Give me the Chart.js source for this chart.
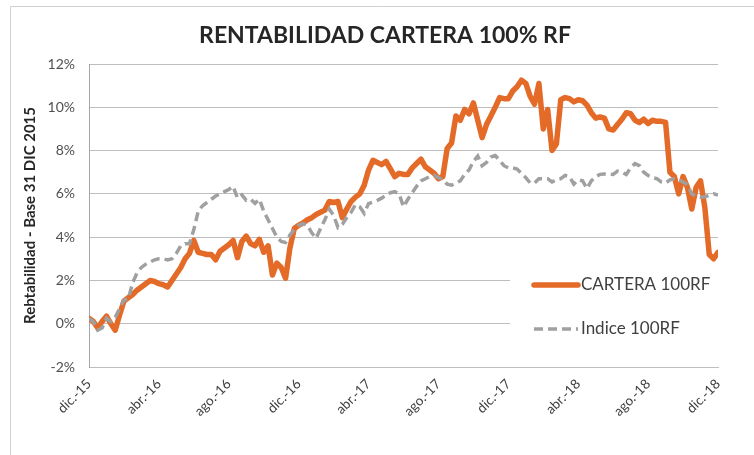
<!DOCTYPE html>
<html>
<head>
<meta charset="utf-8">
<script src="https://cdn.jsdelivr.net/npm/chart.js@4"></script>
<style>
  html, body { margin: 0; padding: 0; background: #fff; }
  #wrap { width: 754px; height: 455px; }
</style>
</head>
<body>
<div id="wrap"><canvas id="grafico" width="754" height="455"></canvas></div>
<script>
// etiquetas del eje X (cada 4 meses)
var tickLabels = ["dic.-15", "abr.-16", "ago.-16", "dic.-16", "abr.-17", "ago.-17", "dic.-17", "abr.-18", "ago.-18", "dic.-18"];

// rentabilidad acumulada (%), un punto por semana aprox. desde 31 dic 2015
var cartera = [
  0.25, 0.1, -0.2, 0.1, 0.35, 0.0, -0.3, 0.4, 1.05, 1.2,
  1.35, 1.55, 1.7, 1.85, 2.0, 1.95, 1.85, 1.8, 1.7, 2.0,
  2.3, 2.6, 3.0, 3.25, 3.85, 3.3, 3.25, 3.2, 3.2, 2.95,
  3.35, 3.5, 3.65, 3.85, 3.05, 3.8, 4.05, 3.7, 3.6, 3.9,
  3.3, 3.6, 2.25, 2.8, 2.6, 2.1, 3.5, 4.4, 4.55, 4.65,
  4.8, 4.9, 5.05, 5.15, 5.25, 5.65, 5.6, 5.65, 4.9, 5.3,
  5.65, 5.85, 6.0, 6.4, 7.1, 7.55, 7.45, 7.35, 7.5, 7.15,
  6.8, 6.95, 6.9, 6.9, 7.2, 7.4, 7.6, 7.25, 7.1, 6.95,
  6.7, 6.8, 8.1, 8.35, 9.6, 9.4, 9.9, 9.7, 10.2, 9.4,
  8.6, 9.2, 9.6, 10.0, 10.45, 10.4, 10.4, 10.75, 10.95, 11.25,
  11.1, 10.5, 10.15, 11.1, 9.0, 9.9, 8.0, 8.3, 10.35, 10.45,
  10.4, 10.25, 10.35, 10.3, 10.1, 9.75, 9.5, 9.55, 9.5, 9.0,
  8.95, 9.2, 9.45, 9.75, 9.7, 9.4, 9.3, 9.45, 9.25, 9.4,
  9.35, 9.35, 9.3, 7.0, 6.8, 6.0, 6.8, 6.3, 5.3, 6.3,
  6.6, 5.35, 3.2, 3.0, 3.3
];

var indice = [
  0.25, 0.1, -0.3, -0.2, 0.25, 0.1, 0.3, 0.7, 1.1, 1.15,
  1.9, 2.35, 2.6, 2.75, 2.85, 2.95, 3.0, 3.0, 2.95, 3.0,
  3.25, 3.6, 3.7, 3.7, 4.35, 5.2, 5.45, 5.6, 5.75, 5.9,
  6.0, 6.1, 6.2, 6.35, 5.8, 5.95, 5.7, 5.75, 5.56, 5.75,
  5.2, 4.8, 4.4, 4.0, 3.8, 3.75, 4.1, 4.35, 4.55, 4.62,
  4.55, 4.2, 3.95, 4.4, 4.8, 5.3, 5.0, 4.45, 4.6, 4.9,
  5.15, 5.5, 5.4, 5.1, 5.55, 5.62, 5.7, 5.8, 5.95, 6.05,
  6.1, 6.0, 5.4, 5.75, 6.05, 6.35, 6.6, 6.7, 6.8, 6.85,
  6.75, 6.65, 6.45, 6.4, 6.5, 6.6, 6.9, 7.1, 7.5, 7.75,
  7.3, 7.45, 7.7, 7.77, 7.55, 7.3, 7.2, 7.2, 7.15, 6.95,
  6.75, 6.5, 6.5, 6.7, 6.7, 6.7, 6.55, 6.65, 6.7, 6.85,
  6.8, 6.45, 6.65, 6.6, 6.25, 6.6, 6.8, 6.9, 6.92, 6.92,
  6.9, 7.05, 7.0, 6.9, 7.2, 7.4, 7.3, 7.0, 6.85, 6.75,
  6.7, 6.55, 6.5, 6.65, 6.7, 6.65, 6.55, 6.43, 6.0, 5.9,
  5.85, 5.85, 5.95, 6.0, 5.95
];

var titulo = "RENTABILIDAD CARTERA 100% RF";
var naranja = "#E46A28";
var gris = "#A0A0A0";
var fuente = "'Lato', 'Open Sans', sans-serif";

// meses desde dic.-15 (4 puntos por mes)
function serie(valores) {
  return valores.map(function (v, i) {
    return { x: i / 4, y: v };
  });
}

// marco del grafico y titulo (estilo Excel)
var marco = {
  id: "marco",
  beforeDraw: function (chart) {
    var ctx = chart.ctx;
    ctx.save();
    ctx.strokeStyle = "#D0D0D0";
    ctx.lineWidth = 1;
    ctx.beginPath();
    ctx.moveTo(10.5, 460);
    ctx.lineTo(10.5, 6.5);
    ctx.lineTo(760, 6.5);
    ctx.stroke();
    ctx.fillStyle = "#262626";
    ctx.font = "bold 23px " + fuente;
    ctx.textAlign = "center";
    ctx.textBaseline = "middle";
    ctx.fillText(titulo, 385, 36);
    ctx.restore();
  }
};

// leyenda dentro del area del grafico, abajo a la derecha
var leyenda = {
  id: "leyenda",
  afterDatasetsDraw: function (chart) {
    var ctx = chart.ctx;
    var area = chart.chartArea;
    ctx.save();
    ctx.fillStyle = "#fff";
    ctx.fillRect(510, 262, area.right - 510, 84);
    var filas = [285, 329];
    chart.data.datasets.forEach(function (ds, k) {
      var y = filas[k];
      ctx.strokeStyle = ds.borderColor;
      ctx.lineWidth = ds.borderWidth;
      ctx.lineCap = ds.borderDash ? "butt" : "round";
      ctx.setLineDash(ds.borderDash || []);
      ctx.beginPath();
      ctx.moveTo(534, y);
      ctx.lineTo(578, y);
      ctx.stroke();
      ctx.setLineDash([]);
      ctx.fillStyle = "#404040";
      ctx.font = "17px " + fuente;
      ctx.textBaseline = "middle";
      ctx.fillText(ds.label, 581, y);
    });
    ctx.restore();
  }
};

var ctx = document.getElementById("grafico").getContext("2d");
var myChart = new Chart(ctx, {
  type: "line",
  data: {
    datasets: [
      {
        label: "CARTERA 100RF",
        data: serie(cartera),
        borderColor: naranja,
        backgroundColor: naranja,
        borderWidth: 5.5,
        pointRadius: 0,
        tension: 0,
        borderJoinStyle: "round",
        borderCapStyle: "round",
        order: 2,
      },
      {
        label: "Indice 100RF",
        data: serie(indice),
        borderColor: gris,
        backgroundColor: gris,
        borderWidth: 3.5,
        borderDash: [9, 5],
        pointRadius: 0,
        tension: 0,
        order: 1,
      },
    ],
  },
  options: {
    animation: false,
    responsive: false,
    layout: { padding: { top: 64, left: 0, right: 36, bottom: 0 } },
    plugins: {
      legend: { display: false },
      tooltip: { enabled: false },
      title: { display: false },
    },
    scales: {
      x: {
        type: "linear",
        min: 0,
        max: 36,
        grid: { display: false, drawTicks: false },
        border: { display: true, color: "#BEBEBE" },
        ticks: {
          stepSize: 4,
          autoSkip: false,
          minRotation: 45,
          maxRotation: 45,
          padding: 9,
          color: "#404040",
          font: { family: fuente, size: 13.5 },
          callback: function (v) {
            return tickLabels[v / 4];
          },
        },
        afterFit: function (scale) {
          scale.height = 455 - 367;
        },
      },
      y: {
        min: -2,
        max: 12,
        grid: { color: "#BEBEBE", drawTicks: false },
        border: { display: true, color: "#A6A6A6" },
        ticks: {
          stepSize: 2,
          padding: 14,
          color: "#505050",
          font: { family: fuente, size: 14 },
          callback: function (v) {
            return v + "%";
          },
        },
        title: {
          display: true,
          text: "Rebtabilidad - Base 31 DIC 2015",
          color: "#262626",
          font: { family: fuente, size: 15, weight: "bold" },
          padding: { top: 21, bottom: 0 },
        },
        afterFit: function (scale) {
          scale.width = 89;
        },
      },
    },
  },
  plugins: [marco, leyenda],
});
</script>
</body>
</html>
